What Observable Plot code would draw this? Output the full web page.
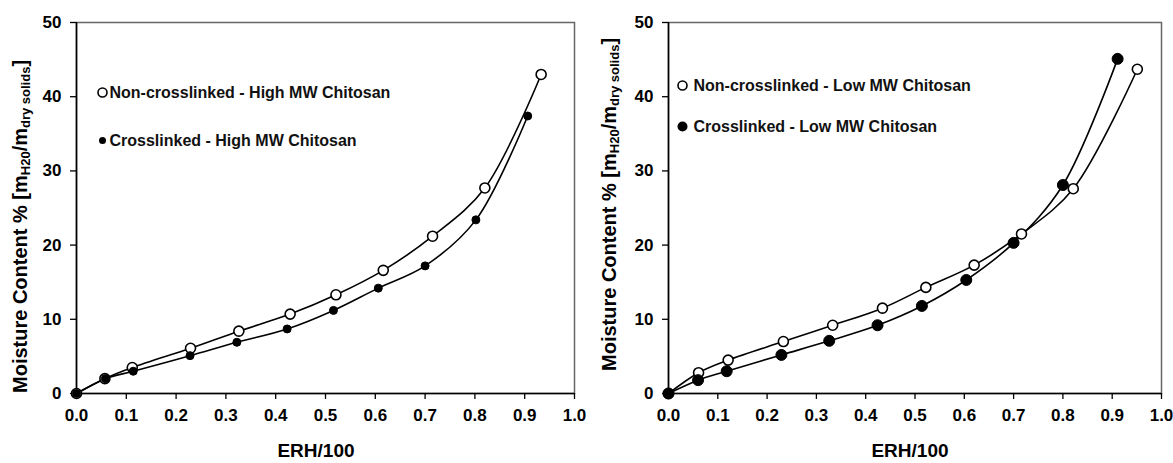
<!DOCTYPE html>
<html><head><meta charset="utf-8">
<script src="https://cdn.jsdelivr.net/npm/d3@7"></script>
<script src="https://cdn.jsdelivr.net/npm/@observablehq/plot@0.6"></script>
<style>
body{margin:0;background:#fff;font-family:"Liberation Sans",Arial,sans-serif}
#wrap{display:flex;width:1173px;height:463px;overflow:hidden}
svg{display:block}
</style></head><body><div id="wrap"></div>
<script>
const xTitle = "ERH/100";
const xTicks = [0, 0.1, 0.2, 0.3, 0.4, 0.5, 0.6, 0.7, 0.8, 0.9, 1.0];
const yTicks = [0, 10, 20, 30, 40, 50];

// Left panel: High MW chitosan
const highLegend = ["Non-crosslinked - High MW Chitosan", "Crosslinked - High MW Chitosan"];
const highNonX = [0, 0.057, 0.112, 0.229, 0.326, 0.429, 0.521, 0.616, 0.715, 0.820, 0.933];
const highNonY = [0, 2.0, 3.5, 6.1, 8.4, 10.7, 13.3, 16.6, 21.2, 27.7, 43.0];
const highCrossX = [0, 0.058, 0.114, 0.228, 0.322, 0.423, 0.516, 0.606, 0.700, 0.802, 0.906];
const highCrossY = [0, 2.0, 3.0, 5.1, 6.9, 8.7, 11.2, 14.2, 17.2, 23.4, 37.4];

// Right panel: Low MW chitosan
const lowLegend = ["Non-crosslinked - Low MW Chitosan", "Crosslinked - Low MW Chitosan"];
const lowNonX = [0, 0.061, 0.121, 0.233, 0.333, 0.434, 0.522, 0.620, 0.716, 0.821, 0.951];
const lowNonY = [0, 2.8, 4.5, 7.0, 9.2, 11.5, 14.3, 17.3, 21.5, 27.6, 43.7];
const lowCrossX = [0, 0.060, 0.118, 0.229, 0.326, 0.424, 0.514, 0.604, 0.700, 0.800, 0.911];
const lowCrossY = [0, 1.8, 3.0, 5.2, 7.1, 9.2, 11.8, 15.3, 20.3, 28.1, 45.1];

const toRows = (xs, ys) => xs.map((x, i) => ({x, y: ys[i]}));

function panel(cfg) {
  const non = toRows(cfg.nonX, cfg.nonY);
  const cross = toRows(cfg.crossX, cfg.crossY);
  const svg = Plot.plot({
    width: cfg.width, height: 463,
    marginLeft: cfg.ml, marginRight: 12, marginTop: 22, marginBottom: 70,
    x: {domain: [0, 1]},
    y: {domain: [0, 50]},
    style: {fontFamily: '"Liberation Sans", Arial, sans-serif', color: "black", background: "white", overflow: "visible"},
    marks: [
      Plot.frame({stroke: "#666", strokeWidth: 1.5}),
      Plot.axisX(xTicks, {tickSize: 6, tickPadding: 9, tickFormat: d3.format(".1f"), label: null, fontSize: 17, fontWeight: "bold", strokeWidth: 1.3}),
      Plot.axisY(yTicks, {tickSize: 6, tickPadding: 9, tickFormat: d3.format("d"), label: null, fontSize: 17, fontWeight: "bold", strokeWidth: 1.3}),
      Plot.ruleX([0], {stroke: "black", strokeWidth: 1.6}),
      Plot.ruleY([0], {stroke: "black", strokeWidth: 1.6}),
      Plot.line(non, {x: "x", y: "y", curve: "catmull-rom", stroke: "black", strokeWidth: 1.6}),
      Plot.line(cross, {x: "x", y: "y", curve: "catmull-rom", stroke: "black", strokeWidth: 1.6}),
      Plot.dot(non, {x: "x", y: "y", r: 5, fill: "white", stroke: "black", strokeWidth: 1.6}),
      Plot.dot(cross, {x: "x", y: "y", r: cfg.fr, fill: "black", stroke: "black", strokeWidth: 1}),
      // legend
      Plot.dot([cfg.legend[0]], {frameAnchor: "top-left", dx: cfg.lx, dy: cfg.ly0, r: 4.5, fill: "white", stroke: "black", strokeWidth: 1.6}),
      Plot.dot([cfg.legend[1]], {frameAnchor: "top-left", dx: cfg.lx, dy: cfg.ly1, r: cfg.fr - 0.5, fill: "black"}),
      Plot.text([cfg.legend[0]], {frameAnchor: "top-left", dx: cfg.tx, dy: cfg.ly0, text: d => d, textAnchor: "start", lineAnchor: "middle", fontSize: 16, fontWeight: "bold", fill: "#111"}),
      Plot.text([cfg.legend[1]], {frameAnchor: "top-left", dx: cfg.tx, dy: cfg.ly1, text: d => d, textAnchor: "start", lineAnchor: "middle", fontSize: 16, fontWeight: "bold", fill: "#111"})
    ]
  });
  const s = d3.select(svg);
  s.append("text")
    .attr("x", cfg.xtx).attr("y", 450)
    .attr("text-anchor", "middle").attr("dominant-baseline", "central")
    .attr("font-size", 19).attr("font-weight", "bold").attr("fill", "black")
    .text(xTitle);
  const t = s.append("text")
    .attr("transform", `translate(${cfg.ytx},${cfg.yty}) rotate(-90)`)
    .attr("text-anchor", "start").attr("dominant-baseline", "central")
    .attr("font-size", 20).attr("font-weight", "bold").attr("fill", "black");
  t.append("tspan").text("Moisture Content % [m");
  t.append("tspan").attr("font-size", 13).attr("dy", 5).text("H20");
  t.append("tspan").attr("dy", -5).text("/m");
  t.append("tspan").attr("font-size", 13).attr("dy", 5).text("dry solids");
  t.append("tspan").attr("dy", -5).text("]");
  return svg;
}

const wrap = document.getElementById("wrap");
wrap.append(panel({
  width: 586, ml: 76, nonX: highNonX, nonY: highNonY, crossX: highCrossX, crossY: highCrossY,
  legend: highLegend, fr: 4, lx: 26, ly0: 70, ly1: 118, tx: 33, xtx: 316, ytx: 20, yty: 393
}));
wrap.append(panel({
  width: 587, ml: 82, nonX: lowNonX, nonY: lowNonY, crossX: lowCrossX, crossY: lowCrossY,
  legend: lowLegend, fr: 5.5, lx: 14, ly0: 63, ly1: 104, tx: 25, xtx: 324, ytx: 23, yty: 371
}));
</script></body></html>
